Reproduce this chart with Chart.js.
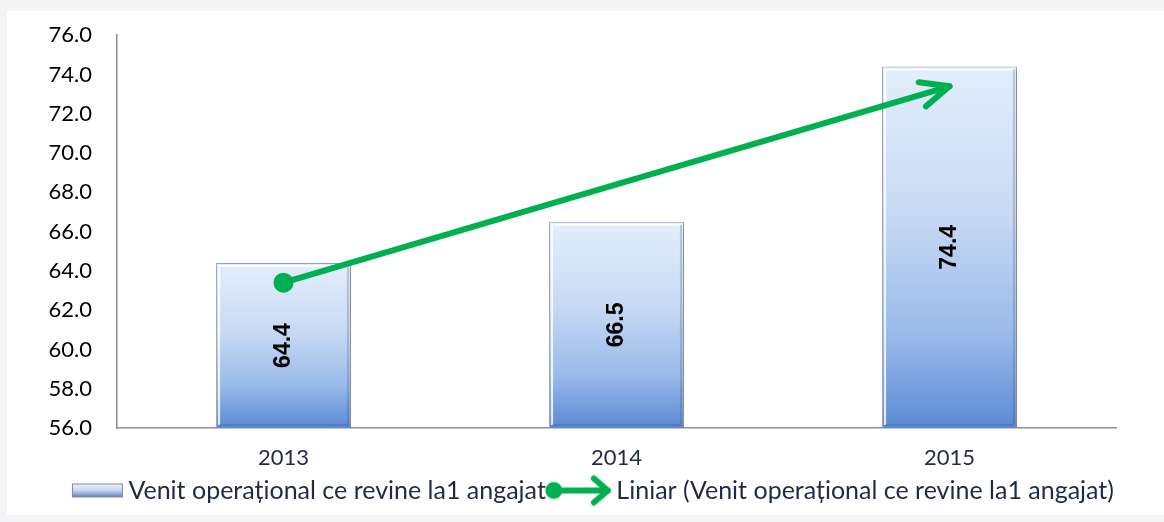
<!DOCTYPE html>
<html>
<head>
<meta charset="utf-8">
<script src="https://cdn.jsdelivr.net/npm/chart.js@4.4.1/dist/chart.umd.min.js"></script>
<style>
  html, body { margin: 0; padding: 0; background: #f5f5f7; width: 1164px; height: 522px; overflow: hidden; }
  #wrap { position: absolute; left: 7px; top: 11px; width: 1157px; height: 504px; background: #ffffff; }
  canvas { display: block; }
</style>
</head>
<body>
<div id="wrap"><canvas id="c" width="1157" height="504"></canvas></div>
<script>
// ---- data ----
const categories = ['2013', '2014', '2015'];
const venitValues = [64.4, 66.5, 74.4];
const trendValues = [63.4, 68.4, 73.4];
const yMin = 56;
const yMax = 76;
const yStep = 2;
const seriesName = 'Venit operațional ce revine la1 angajat';
const trendName = 'Liniar (Venit operațional ce revine la1 angajat)';

const GREEN = '#00b050';
const TEXT_FONT = 'Lato, "Liberation Sans", Arial, sans-serif';

function barGradient(ctx, top, bottom) {
  const g = ctx.createLinearGradient(0, top, 0, bottom);
  g.addColorStop(0, '#e3eefc');
  g.addColorStop(0.4, '#c8daf4');
  g.addColorStop(0.75, '#98b9e9');
  g.addColorStop(1, '#5a8ad5');
  return g;
}

// legend icons
function makeBarIcon() {
  const c = document.createElement('canvas');
  c.width = 66; c.height = 16;
  const x = c.getContext('2d');
  const g = x.createLinearGradient(0, 1, 0, 15);
  g.addColorStop(0, '#f2f6fc');
  g.addColorStop(0.5, '#c6d5ec');
  g.addColorStop(1, '#5a7fb8');
  x.fillStyle = g;
  x.fillRect(14, 1, 51, 14);
  x.strokeStyle = '#7d8aa3';
  x.lineWidth = 1;
  x.strokeRect(14.5, 1.5, 50, 13);
  return c;
}
function makeLineIcon() {
  const c = document.createElement('canvas');
  c.width = 70; c.height = 34;
  const x = c.getContext('2d');
  x.strokeStyle = GREEN; x.fillStyle = GREEN;
  x.lineWidth = 6; x.lineCap = 'round'; x.lineJoin = 'round';
  x.beginPath(); x.moveTo(10, 17); x.lineTo(64, 17); x.stroke();
  x.beginPath(); x.moveTo(50, 5); x.lineTo(64, 17); x.lineTo(50, 29); x.stroke();
  x.beginPath(); x.arc(10, 17, 8.5, 0, Math.PI * 2); x.fill();
  return c;
}
const barIcon = makeBarIcon();
const lineIcon = makeLineIcon();

const legendShift = {
  id: 'legendShift',
  afterLayout(chart) {
    if (chart.legend) { chart.legend.left += 6; chart.legend.right += 6; }
  }
};

const barEffects = {
  id: 'barEffects',
  beforeDatasetDraw(chart, args) {
    if (args.index !== 0) return;
    const ctx = chart.ctx;
    ctx.save();
    ctx.shadowColor = 'rgba(0,0,0,0.28)';
    ctx.shadowBlur = 4;
    ctx.shadowOffsetX = 2;
    ctx.shadowOffsetY = 2;
  },
  afterDatasetDraw(chart, args) {
    const ctx = chart.ctx;
    const ys = chart.scales.y;
    if (args.index === 0) {
      ctx.restore();
      const meta = chart.getDatasetMeta(0);
      meta.data.forEach((bar, i) => {
        const p = bar.getProps(['x', 'width'], true);
        const l = p.x - p.width / 2, r = p.x + p.width / 2;
        const t = ys.getPixelForValue(venitValues[i]);
        const b = ys.getPixelForValue(yMin);
        // bevel highlights
        ctx.save();
        ctx.strokeStyle = 'rgba(255,255,255,0.85)';
        ctx.lineWidth = 2;
        ctx.beginPath();
        ctx.moveTo(l + 3, b - 3); ctx.lineTo(l + 3, t + 3); ctx.lineTo(r - 3, t + 3);
        ctx.stroke();
        ctx.strokeStyle = 'rgba(60,80,120,0.25)';
        ctx.beginPath();
        ctx.moveTo(r - 3, t + 3); ctx.lineTo(r - 3, b - 3); ctx.lineTo(l + 3, b - 3);
        ctx.stroke();
        ctx.restore();
        // value label
        ctx.save();
        ctx.translate(p.x, (t + b) / 2);
        ctx.rotate(-Math.PI / 2);
        ctx.fillStyle = '#000000';
        ctx.font = 'bold 23px "Liberation Sans", Arial, sans-serif';
        ctx.textAlign = 'center';
        ctx.textBaseline = 'middle';
        ctx.fillText(venitValues[i].toFixed(1), 0, 0);
        ctx.restore();
      });
    }
    if (args.index === 1) {
      const meta = chart.getDatasetMeta(1);
      const pts = meta.data;
      const p1 = pts[pts.length - 2].getProps(['x', 'y'], true);
      const p2 = pts[pts.length - 1].getProps(['x', 'y'], true);
      const ang = Math.atan2(p2.y - p1.y, p2.x - p1.x);
      const len = 31, spread = 24 * Math.PI / 180;
      ctx.save();
      ctx.strokeStyle = GREEN;
      ctx.lineWidth = 6;
      ctx.lineCap = 'round';
      ctx.lineJoin = 'round';
      ctx.beginPath();
      ctx.moveTo(p2.x - len * Math.cos(ang - spread), p2.y - len * Math.sin(ang - spread));
      ctx.lineTo(p2.x, p2.y);
      ctx.lineTo(p2.x - len * Math.cos(ang + spread), p2.y - len * Math.sin(ang + spread));
      ctx.stroke();
      ctx.restore();
    }
  }
};

new Chart(document.getElementById('c'), {
  data: {
    labels: categories,
    datasets: [
      {
        type: 'bar',
        label: seriesName,
        data: venitValues,
        order: 1,
        backgroundColor(ctx) {
          const chart = ctx.chart;
          if (!chart.chartArea || !chart.scales.y) return '#c6d8f3';
          const y = chart.scales.y;
          const v = venitValues[ctx.dataIndex];
          return barGradient(chart.ctx, y.getPixelForValue(v), y.getPixelForValue(yMin));
        },
        borderColor: '#98a3b8',
        borderWidth: 1,
        barPercentage: 0.405,
        categoryPercentage: 1
      },
      {
        type: 'line',
        label: trendName,
        data: trendValues,
        order: 0,
        borderColor: GREEN,
        borderWidth: 6,
        borderCapStyle: 'round',
        pointRadius: [10, 0, 0],
        pointHoverRadius: [10, 0, 0],
        pointBackgroundColor: GREEN,
        pointBorderWidth: 0,
        tension: 0,
        fill: false
      }
    ]
  },
  options: {
    responsive: false,
    animation: false,
    events: [],
    layout: { padding: { top: 11, right: 48, left: 0, bottom: 2 } },
    scales: {
      x: {
        grid: { display: false, drawTicks: false },
        border: { display: true, color: '#8e8e8e', width: 1.5 },
        ticks: { color: '#1f2a44', font: { family: TEXT_FONT, size: 22 }, padding: 17 },
        afterFit(s) { s.height = 42; }
      },
      y: {
        min: yMin, max: yMax,
        grid: { display: true, drawOnChartArea: false, drawTicks: true, tickLength: 14, color: 'rgba(0,0,0,0)' },
        border: { display: true, color: '#8e8e8e', width: 1.5 },
        ticks: {
          stepSize: yStep,
          color: '#000000',
          font: { family: TEXT_FONT, size: 22 },
          padding: 11,
          callback: v => Number(v).toFixed(1)
        },
        afterFit(s) { s.width = 110; }
      }
    },
    plugins: {
      tooltip: { enabled: false },
      legend: {
        display: true,
        position: 'bottom',
        align: 'end',
        labels: {
          usePointStyle: true,
          pointStyleWidth: 50,
          padding: 8,
          color: '#1f2a44',
          font: { family: TEXT_FONT, size: 25 },
          generateLabels() {
            return [
              { text: seriesName, pointStyle: barIcon, datasetIndex: 0, hidden: false, lineWidth: 0, fillStyle: 'rgba(0,0,0,0)', strokeStyle: 'rgba(0,0,0,0)', fontColor: '#1f2a44' },
              { text: trendName, pointStyle: lineIcon, datasetIndex: 1, hidden: false, lineWidth: 0, fillStyle: 'rgba(0,0,0,0)', strokeStyle: 'rgba(0,0,0,0)', fontColor: '#1f2a44' }
            ];
          }
        }
      }
    }
  },
  plugins: [barEffects, legendShift]
});
</script>
</body>
</html>
